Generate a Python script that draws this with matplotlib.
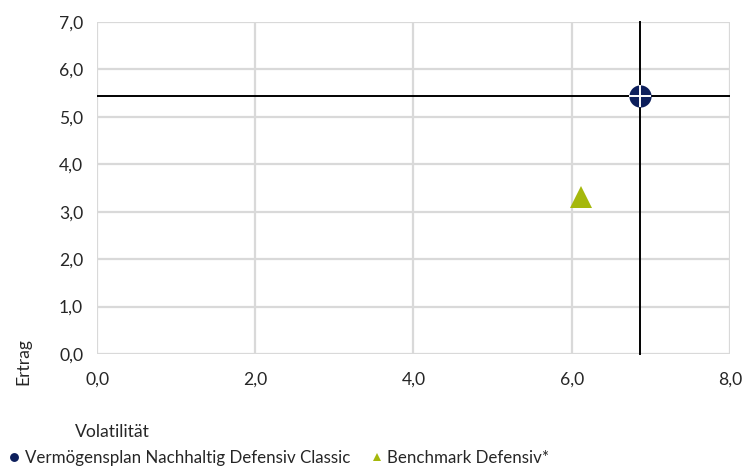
import matplotlib.pyplot as plt

names = ["Vermögensplan Nachhaltig Defensiv Classic", "Benchmark Defensiv*"]
volatility = [6.86, 6.12]
returns = [5.44, 3.32]
colors = ["#0d1f5c", "#a5b80c"]
markers = ["o", "^"]
x_ticks = [0.0, 2.0, 4.0, 6.0, 8.0]
y_ticks = [0.0, 1.0, 2.0, 3.0, 4.0, 5.0, 6.0, 7.0]

plt.rcParams["font.family"] = ["Lato", "DejaVu Sans"]
plt.rcParams["font.size"] = 12.6

fig = plt.figure(figsize=(7.47, 4.68), dpi=100)
ax = fig.add_axes([0.13, 0.2436, 0.847, 0.7094])

ax.set_xlim(x_ticks[0], x_ticks[-1])
ax.set_ylim(y_ticks[0], y_ticks[-1])
ax.set_xticks(x_ticks)
ax.set_yticks(y_ticks)
ax.set_xticklabels([f"{v:.1f}".replace(".", ",") for v in x_ticks])
ax.set_yticklabels([f"{v:.1f}".replace(".", ",") for v in y_ticks])
ax.grid(True, color="#d9d9d9", linewidth=1.6)
ax.set_axisbelow(True)
for side in ax.spines.values():
    side.set_visible(False)
ax.tick_params(length=0, pad=10, labelcolor="#262626")
ax.tick_params(axis="x", pad=13)

# crosshair through the fund
ax.axhline(returns[0], color="black", linewidth=1.4, zorder=2)
ax.axvline(volatility[0], color="black", linewidth=1.4, zorder=2, clip_on=False)

handles = []
for x, y, c, m, name in zip(volatility, returns, colors, markers, names):
    h, = ax.plot([x], [y], linestyle="none", marker=m, color=c, markersize=16,
                 markeredgewidth=0, zorder=3, clip_on=False, label=name)
    handles.append(h)
ax.plot([volatility[0]], [returns[0]], linestyle="none", marker="+", color="white",
        markersize=16, markeredgewidth=1.4, zorder=4)

fig.text(0.031, 0.178, "Ertrag", rotation=90, ha="center", va="bottom", color="#262626")
fig.text(0.1, 0.077, "Volatilität", ha="left", va="center", color="#262626")

fig.legend(handles=handles, loc="center left", bbox_to_anchor=(-0.008, 0.022),
           ncol=2, frameon=False, markerscale=0.4, handlelength=0.6,
           handletextpad=0.3, columnspacing=1.3, labelcolor="#262626",
           fontsize=12.2)

fig.savefig("out.png", dpi=100)
